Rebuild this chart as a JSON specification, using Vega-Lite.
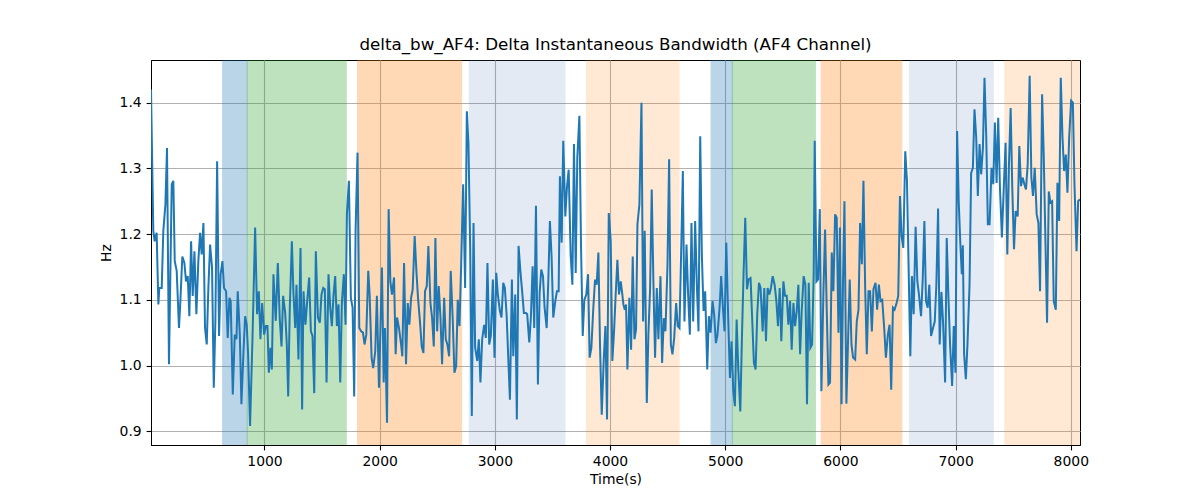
{
  "$schema": "https://vega.github.io/schema/vega-lite/v6.json",
  "width": 929,
  "height": 385,
  "autosize": "none",
  "padding": {"left": 151, "top": 60, "right": 120, "bottom": 55},
  "background": "white",
  "config": {
    "font": "DejaVu Sans",
    "view": {"stroke": "#000000", "strokeWidth": 1},
    "axis": {
      "labelFont": "DejaVu Sans", "labelFontSize": 13.9, "labelColor": "#000000",
      "titleFont": "DejaVu Sans", "titleFontSize": 13.9, "titleFontWeight": "normal", "titleColor": "#000000",
      "domainColor": "#000000", "tickColor": "#000000", "tickSize": 4.9, "tickWidth": 1.1, "labelPadding": 4.9,
      "gridColor": "#b0b0b0", "gridWidth": 1.1, "gridOpacity": 1
    }
  },
  "title": {"text": "delta_bw_AF4: Delta Instantaneous Bandwidth (AF4 Channel)", "font": "DejaVu Sans", "fontSize": 16.7, "fontWeight": "normal", "color": "#000000", "offset": 6},
  "datasets": {
    "spans": [
      {"start": 637, "end": 850, "kind": "a"},
      {"start": 850, "end": 1710, "kind": "b"},
      {"start": 1808, "end": 2712, "kind": "c"},
      {"start": 2773, "end": 3613, "kind": "d"},
      {"start": 3790, "end": 4604, "kind": "e"},
      {"start": 4877, "end": 5062, "kind": "a"},
      {"start": 5062, "end": 5783, "kind": "b"},
      {"start": 5833, "end": 6533, "kind": "c"},
      {"start": 6596, "end": 7332, "kind": "d"},
      {"start": 7423, "end": 8080, "kind": "e"}
    ],
    "line": [
      {"t":15,"v":1.42},{"t":35,"v":1.205},{"t":47,"v":1.189},{"t":56,"v":1.197},{"t":64,"v":1.202},{"t":79,"v":1.093},{"t":87,"v":1.118},{"t":99,"v":1.118},{"t":108,"v":1.118},{"t":122,"v":1.205},{"t":140,"v":1.245},{"t":154,"v":1.331},{"t":171,"v":1.002},{"t":195,"v":1.276},{"t":209,"v":1.281},{"t":221,"v":1.159},{"t":238,"v":1.144},{"t":258,"v":1.057},{"t":270,"v":1.098},{"t":287,"v":1.166},{"t":305,"v":1.156},{"t":319,"v":1.128},{"t":334,"v":1.136},{"t":348,"v":1.075},{"t":363,"v":1.189},{"t":377,"v":1.106},{"t":392,"v":1.174},{"t":409,"v":1.078},{"t":426,"v":1.159},{"t":441,"v":1.202},{"t":455,"v":1.169},{"t":470,"v":1.217},{"t":484,"v":1.057},{"t":499,"v":1.032},{"t":513,"v":1.118},{"t":528,"v":1.184},{"t":545,"v":1.149},{"t":560,"v":0.966},{"t":574,"v":1.068},{"t":589,"v":1.311},{"t":606,"v":1.045},{"t":620,"v":1.139},{"t":635,"v":1.159},{"t":649,"v":1.118},{"t":667,"v":1.113},{"t":681,"v":1.042},{"t":696,"v":1.103},{"t":707,"v":1.098},{"t":725,"v":0.956},{"t":742,"v":1.047},{"t":757,"v":1.04},{"t":768,"v":1.113},{"t":786,"v":1.047},{"t":800,"v":0.941},{"t":817,"v":1.017},{"t":832,"v":1.075},{"t":846,"v":1.062},{"t":858,"v":1.017},{"t":875,"v":0.908},{"t":896,"v":1.042},{"t":919,"v":1.21},{"t":936,"v":1.078},{"t":951,"v":1.113},{"t":965,"v":1.04},{"t":980,"v":1.095},{"t":997,"v":1.047},{"t":1012,"v":1.06},{"t":1026,"v":1.06},{"t":1038,"v":0.989},{"t":1052,"v":1.027},{"t":1064,"v":0.994},{"t":1078,"v":1.139},{"t":1098,"v":1.068},{"t":1116,"v":1.156},{"t":1133,"v":1.07},{"t":1148,"v":1.029},{"t":1162,"v":1.106},{"t":1180,"v":1.08},{"t":1194,"v":1.032},{"t":1206,"v":0.953},{"t":1220,"v":1.088},{"t":1238,"v":1.189},{"t":1252,"v":1.108},{"t":1267,"v":1.057},{"t":1278,"v":1.123},{"t":1295,"v":1.009},{"t":1313,"v":1.179},{"t":1327,"v":0.933},{"t":1339,"v":1.113},{"t":1356,"v":1.062},{"t":1371,"v":1.098},{"t":1388,"v":1.134},{"t":1403,"v":1.052},{"t":1417,"v":1.045},{"t":1432,"v":0.958},{"t":1446,"v":1.174},{"t":1464,"v":1.073},{"t":1481,"v":1.065},{"t":1495,"v":1.108},{"t":1510,"v":1.118},{"t":1524,"v":1.116},{"t":1539,"v":0.974},{"t":1556,"v":1.139},{"t":1571,"v":1.088},{"t":1585,"v":1.06},{"t":1600,"v":1.108},{"t":1614,"v":1.136},{"t":1629,"v":1.06},{"t":1643,"v":1.093},{"t":1658,"v":0.974},{"t":1672,"v":1.095},{"t":1689,"v":1.139},{"t":1704,"v":1.062},{"t":1716,"v":1.232},{"t":1733,"v":1.281},{"t":1750,"v":1.103},{"t":1765,"v":1.088},{"t":1779,"v":0.953},{"t":1791,"v":1.205},{"t":1808,"v":1.324},{"t":1823,"v":1.057},{"t":1840,"v":1.052},{"t":1855,"v":1.05},{"t":1869,"v":1.032},{"t":1884,"v":1.047},{"t":1901,"v":1.144},{"t":1913,"v":1.108},{"t":1930,"v":1.012},{"t":1944,"v":0.996},{"t":1962,"v":1.022},{"t":1976,"v":1.106},{"t":1994,"v":0.966},
      {"t":2020,"v":1.149},{"t":2035,"v":0.974},{"t":2046,"v":1.057},{"t":2064,"v":0.913},{"t":2078,"v":1.238},{"t":2093,"v":1.128},{"t":2107,"v":1.108},{"t":2125,"v":1.134},{"t":2139,"v":1.017},{"t":2151,"v":1.073},{"t":2168,"v":1.057},{"t":2186,"v":1.032},{"t":2197,"v":1.014},{"t":2212,"v":1.156},{"t":2229,"v":1.002},{"t":2244,"v":1.095},{"t":2258,"v":1.062},{"t":2273,"v":1.103},{"t":2287,"v":1.116},{"t":2304,"v":1.197},{"t":2319,"v":1.144},{"t":2333,"v":1.103},{"t":2351,"v":1.065},{"t":2365,"v":1.029},{"t":2380,"v":1.019},{"t":2394,"v":1.113},{"t":2409,"v":1.121},{"t":2423,"v":1.182},{"t":2441,"v":1.095},{"t":2455,"v":1.073},{"t":2470,"v":1.029},{"t":2484,"v":1.194},{"t":2499,"v":1.052},{"t":2513,"v":1.121},{"t":2528,"v":1.073},{"t":2542,"v":1.002},{"t":2560,"v":1.103},{"t":2574,"v":1.04},{"t":2588,"v":1.032},{"t":2603,"v":1.014},{"t":2617,"v":1.144},{"t":2635,"v":1.068},{"t":2649,"v":0.989},{"t":2664,"v":0.999},{"t":2678,"v":1.1},{"t":2693,"v":1.06},{"t":2707,"v":1.149},{"t":2725,"v":1.276},{"t":2742,"v":1.118},{"t":2757,"v":1.387},{"t":2771,"v":1.337},{"t":2786,"v":1.179},{"t":2800,"v":0.923},{"t":2815,"v":1.217},{"t":2829,"v":1.027},{"t":2847,"v":1.007},{"t":2861,"v":1.04},{"t":2875,"v":0.974},{"t":2890,"v":1.04},{"t":2907,"v":1.062},{"t":2922,"v":1.042},{"t":2936,"v":1.156},{"t":2951,"v":1.032},{"t":2965,"v":1.045},{"t":2983,"v":1.131},{"t":2997,"v":1.012},{"t":3012,"v":1.141},{"t":3026,"v":1.108},{"t":3044,"v":1.083},{"t":3058,"v":1.073},{"t":3073,"v":1.126},{"t":3087,"v":1.118},{"t":3102,"v":1.078},{"t":3116,"v":1.014},{"t":3131,"v":0.948},{"t":3148,"v":1.131},{"t":3160,"v":1.014},{"t":3177,"v":1.108},{"t":3191,"v":0.918},{"t":3206,"v":1.182},{"t":3223,"v":1.141},{"t":3238,"v":1.111},{"t":3252,"v":1.08},{"t":3270,"v":1.08},{"t":3281,"v":1.078},{"t":3299,"v":1.035},{"t":3313,"v":1.073},{"t":3328,"v":1.151},{"t":3342,"v":1.057},{"t":3357,"v":1.243},{"t":3374,"v":0.971},{"t":3389,"v":1.111},{"t":3403,"v":1.146},{"t":3418,"v":1.136},{"t":3432,"v":1.088},{"t":3450,"v":1.057},{"t":3464,"v":1.128},{"t":3478,"v":1.22},{"t":3493,"v":1.164},{"t":3507,"v":1.073},{"t":3525,"v":1.098},{"t":3539,"v":1.113},{"t":3554,"v":1.113},{"t":3565,"v":1.288},{"t":3580,"v":1.187},{"t":3594,"v":1.342},{"t":3612,"v":1.227},{"t":3626,"v":1.271},{"t":3641,"v":1.298},{"t":3658,"v":1.169},{"t":3673,"v":1.123},{"t":3687,"v":1.337},{"t":3702,"v":1.141},{"t":3716,"v":1.317},{"t":3734,"v":1.38},{"t":3748,"v":1.184},{"t":3763,"v":1.045},{"t":3777,"v":1.1},{"t":3794,"v":1.108},{"t":3809,"v":1.139},{"t":3823,"v":1.012},{"t":3838,"v":1.027},{"t":3855,"v":1.088},{"t":3870,"v":1.131},{"t":3884,"v":1.123},{"t":3899,"v":1.172},{"t":3913,"v":1.032},{"t":3928,"v":0.925},{"t":3945,"v":1.007},{"t":3960,"v":1.06},{"t":3974,"v":0.918},{"t":3989,"v":1.232},
      {"t":4006,"v":1.189},{"t":4020,"v":1.007},{"t":4035,"v":1.052},{"t":4049,"v":1.108},{"t":4064,"v":1.161},{"t":4078,"v":1.108},{"t":4093,"v":1.128},{"t":4107,"v":1.108},{"t":4116,"v":1.093},{"t":4128,"v":1.085},{"t":4139,"v":1.093},{"t":4151,"v":0.994},{"t":4168,"v":1.103},{"t":4183,"v":1.024},{"t":4197,"v":1.166},{"t":4212,"v":1.04},{"t":4226,"v":1.055},{"t":4238,"v":1.215},{"t":4255,"v":1.245},{"t":4273,"v":1.4},{"t":4287,"v":1.067},{"t":4301,"v":1.205},{"t":4319,"v":0.943},{"t":4333,"v":1.047},{"t":4348,"v":1.118},{"t":4362,"v":1.268},{"t":4377,"v":1.123},{"t":4391,"v":1.012},{"t":4406,"v":1.118},{"t":4420,"v":1.04},{"t":4438,"v":1.136},{"t":4452,"v":1.004},{"t":4467,"v":1.072},{"t":4481,"v":1.052},{"t":4499,"v":1.154},{"t":4513,"v":1.314},{"t":4528,"v":1.032},{"t":4542,"v":1.017},{"t":4557,"v":1.042},{"t":4574,"v":1.095},{"t":4588,"v":1.06},{"t":4603,"v":1.057},{"t":4617,"v":1.169},{"t":4632,"v":1.296},{"t":4646,"v":1.067},{"t":4664,"v":1.184},{"t":4678,"v":1.108},{"t":4693,"v":1.047},{"t":4707,"v":1.217},{"t":4722,"v":1.067},{"t":4739,"v":1.22},{"t":4754,"v":1.121},{"t":4768,"v":1.052},{"t":4783,"v":1.349},{"t":4797,"v":1.169},{"t":4812,"v":1.083},{"t":4826,"v":1.113},{"t":4844,"v":0.994},{"t":4858,"v":1.075},{"t":4873,"v":1.05},{"t":4890,"v":1.098},{"t":4904,"v":1.078},{"t":4919,"v":1.034},{"t":4933,"v":1.047},{"t":4951,"v":1.088},{"t":4965,"v":1.136},{"t":4980,"v":1.088},{"t":4994,"v":1.052},{"t":5009,"v":1.187},{"t":5026,"v":1.072},{"t":5041,"v":0.981},{"t":5055,"v":1.037},{"t":5070,"v":0.961},{"t":5084,"v":0.938},{"t":5099,"v":1.07},{"t":5113,"v":0.996},{"t":5131,"v":0.93},{"t":5145,"v":1.042},{"t":5160,"v":1.144},{"t":5174,"v":1.225},{"t":5189,"v":1.116},{"t":5203,"v":1.131},{"t":5220,"v":1.133},{"t":5235,"v":1.067},{"t":5249,"v":1.004},{"t":5264,"v":0.994},{"t":5278,"v":1.078},{"t":5293,"v":1.126},{"t":5307,"v":1.118},{"t":5325,"v":1.052},{"t":5339,"v":1.118},{"t":5354,"v":1.037},{"t":5368,"v":1.118},{"t":5383,"v":1.108},{"t":5397,"v":1.118},{"t":5412,"v":1.136},{"t":5429,"v":1.123},{"t":5444,"v":1.098},{"t":5458,"v":1.06},{"t":5473,"v":1.118},{"t":5487,"v":1.037},{"t":5505,"v":1.128},{"t":5519,"v":1.106},{"t":5534,"v":1.106},{"t":5548,"v":1.062},{"t":5563,"v":1.098},{"t":5577,"v":1.024},{"t":5592,"v":1.095},{"t":5606,"v":1.06},{"t":5621,"v":1.083},{"t":5635,"v":1.123},{"t":5650,"v":1.017},{"t":5664,"v":1.083},{"t":5681,"v":1.136},{"t":5696,"v":1.123},{"t":5710,"v":0.941},{"t":5725,"v":1.126},{"t":5739,"v":1.027},{"t":5754,"v":1.032},{"t":5768,"v":1.138},{"t":5777,"v":1.342},{"t":5792,"v":1.128},{"t":5806,"v":1.131},{"t":5821,"v":1.238},{"t":5835,"v":0.961},{"t":5852,"v":1.108},{"t":5867,"v":1.207},{"t":5881,"v":1.088},{"t":5896,"v":0.971},{"t":5910,"v":0.974},{"t":5925,"v":1.172},{"t":5939,"v":1.113},{"t":5954,"v":1.23},{"t":5968,"v":1.225},{"t":5983,"v":1.05},{"t":5996,"v":1.21},
      {"t":6010,"v":0.941},{"t":6023,"v":1.133},{"t":6035,"v":1.25},{"t":6052,"v":0.942},{"t":6067,"v":1.042},{"t":6081,"v":1.131},{"t":6096,"v":1.032},{"t":6110,"v":1.012},{"t":6128,"v":1.009},{"t":6142,"v":1.067},{"t":6157,"v":1.085},{"t":6171,"v":1.217},{"t":6186,"v":1.154},{"t":6200,"v":1.281},{"t":6215,"v":1.118},{"t":6229,"v":1.017},{"t":6244,"v":1.113},{"t":6258,"v":1.113},{"t":6273,"v":1.052},{"t":6287,"v":1.116},{"t":6305,"v":1.126},{"t":6319,"v":1.085},{"t":6334,"v":1.123},{"t":6348,"v":1.098},{"t":6363,"v":1.1},{"t":6380,"v":1.057},{"t":6395,"v":1.012},{"t":6412,"v":1.047},{"t":6427,"v":1.062},{"t":6441,"v":0.963},{"t":6456,"v":1.088},{"t":6470,"v":1.085},{"t":6488,"v":1.095},{"t":6502,"v":1.106},{"t":6517,"v":1.258},{"t":6531,"v":1.197},{"t":6546,"v":1.179},{"t":6563,"v":1.326},{"t":6578,"v":1.281},{"t":6592,"v":1.149},{"t":6607,"v":1.014},{"t":6621,"v":1.136},{"t":6636,"v":1.078},{"t":6653,"v":1.211},{"t":6668,"v":1.128},{"t":6682,"v":1.108},{"t":6700,"v":1.075},{"t":6714,"v":1.128},{"t":6729,"v":1.22},{"t":6743,"v":1.098},{"t":6758,"v":1.088},{"t":6772,"v":1.123},{"t":6787,"v":1.045},{"t":6804,"v":1.057},{"t":6819,"v":1.067},{"t":6833,"v":1.123},{"t":6848,"v":1.239},{"t":6862,"v":1.032},{"t":6877,"v":1.112},{"t":6891,"v":1.067},{"t":6909,"v":0.974},{"t":6923,"v":1.194},{"t":6938,"v":1.103},{"t":6952,"v":1.032},{"t":6970,"v":0.969},{"t":6984,"v":1.06},{"t":6999,"v":0.989},{"t":7013,"v":1.357},{"t":7028,"v":1.245},{"t":7042,"v":1.182},{"t":7054,"v":1.139},{"t":7063,"v":1.183},{"t":7074,"v":1.017},{"t":7089,"v":0.979},{"t":7103,"v":1.032},{"t":7121,"v":1.123},{"t":7135,"v":1.293},{"t":7150,"v":1.301},{"t":7164,"v":1.39},{"t":7179,"v":1.347},{"t":7193,"v":1.258},{"t":7208,"v":1.337},{"t":7222,"v":1.291},{"t":7237,"v":1.331},{"t":7251,"v":1.438},{"t":7266,"v":1.349},{"t":7280,"v":1.215},{"t":7295,"v":1.215},{"t":7312,"v":1.301},{"t":7327,"v":1.276},{"t":7341,"v":1.37},{"t":7356,"v":1.278},{"t":7370,"v":1.377},{"t":7385,"v":1.271},{"t":7402,"v":1.195},{"t":7417,"v":1.265},{"t":7434,"v":1.339},{"t":7449,"v":1.169},{"t":7463,"v":1.304},{"t":7478,"v":1.392},{"t":7492,"v":1.271},{"t":7507,"v":1.177},{"t":7521,"v":1.235},{"t":7539,"v":1.227},{"t":7553,"v":1.334},{"t":7568,"v":1.273},{"t":7582,"v":1.286},{"t":7597,"v":1.276},{"t":7611,"v":1.268},{"t":7626,"v":1.306},{"t":7643,"v":1.441},{"t":7658,"v":1.286},{"t":7672,"v":1.258},{"t":7687,"v":1.301},{"t":7704,"v":1.23},{"t":7719,"v":1.217},{"t":7733,"v":1.113},{"t":7751,"v":1.413},{"t":7765,"v":1.321},{"t":7780,"v":1.189},{"t":7794,"v":1.065},{"t":7809,"v":1.265},{"t":7823,"v":1.248},{"t":7838,"v":1.25},{"t":7852,"v":1.098},{"t":7870,"v":1.085},{"t":7884,"v":1.278},{"t":7899,"v":1.22},{"t":7913,"v":1.438},{"t":7928,"v":1.347},{"t":7942,"v":1.296},{"t":7957,"v":1.321},{"t":7971,"v":1.263},{"t":7986,"v":1.347},{"t":8003,"v":1.403},{"t":8018,"v":1.4},{"t":8032,"v":1.276},{"t":8050,"v":1.174},{"t":8064,"v":1.25},{"t":8079,"v":1.253}
    ]
  },
  "layer": [
    {
      "data": {"name": "spans"},
      "transform": [{"filter": "datum.kind === 'a' || datum.kind === 'b' || datum.kind === 'c'"}],
      "mark": {"type": "rect", "strokeWidth": 1, "opacity": 0.3, "clip": true},
      "encoding": {
        "x": {"field": "start", "type": "quantitative",
              "scale": {"domain": [15, 8080], "nice": false, "zero": false},
              "axis": {"title": "Time(s)", "values": [1000, 2000, 3000, 4000, 5000, 6000, 7000, 8000], "format": "d", "grid": true, "titlePadding": 4}},
        "x2": {"field": "end"},
        "color": {"field": "kind", "type": "nominal", "legend": null,
                  "scale": {"domain": ["a", "b", "c", "d", "e"], "range": ["#1f77b4", "#2ca02c", "#ff7f0e", "#4c72b0", "#ff7f0e"]}},
        "stroke": {"field": "kind", "type": "nominal", "legend": null,
                  "scale": {"domain": ["a", "b", "c", "d", "e"], "range": ["#1f77b4", "#2ca02c", "#ff7f0e", "#4c72b0", "#ff7f0e"]}}
      }
    },
    {
      "data": {"name": "spans"},
      "transform": [{"filter": "datum.kind === 'd'"}],
      "mark": {"type": "rect", "strokeWidth": 1, "opacity": 0.15, "color": "#4c72b0", "clip": true},
      "encoding": {
        "x": {"field": "start", "type": "quantitative"},
        "x2": {"field": "end"}
      }
    },
    {
      "data": {"name": "spans"},
      "transform": [{"filter": "datum.kind === 'e'"}],
      "mark": {"type": "rect", "strokeWidth": 1, "opacity": 0.18, "color": "#ff7f0e", "clip": true},
      "encoding": {
        "x": {"field": "start", "type": "quantitative"},
        "x2": {"field": "end"}
      }
    },
    {
      "data": {"name": "line"},
      "mark": {"type": "line", "color": "#1f77b4", "strokeWidth": 2, "clip": true},
      "encoding": {
        "x": {"field": "t", "type": "quantitative"},
        "y": {"field": "v", "type": "quantitative",
              "scale": {"domain": [0.879, 1.465], "nice": false, "zero": false},
              "axis": {"title": "Hz", "values": [0.9, 1.0, 1.1, 1.2, 1.3, 1.4], "format": ".1f", "grid": true, "titlePadding": 6}}
      }
    }
  ]
}
